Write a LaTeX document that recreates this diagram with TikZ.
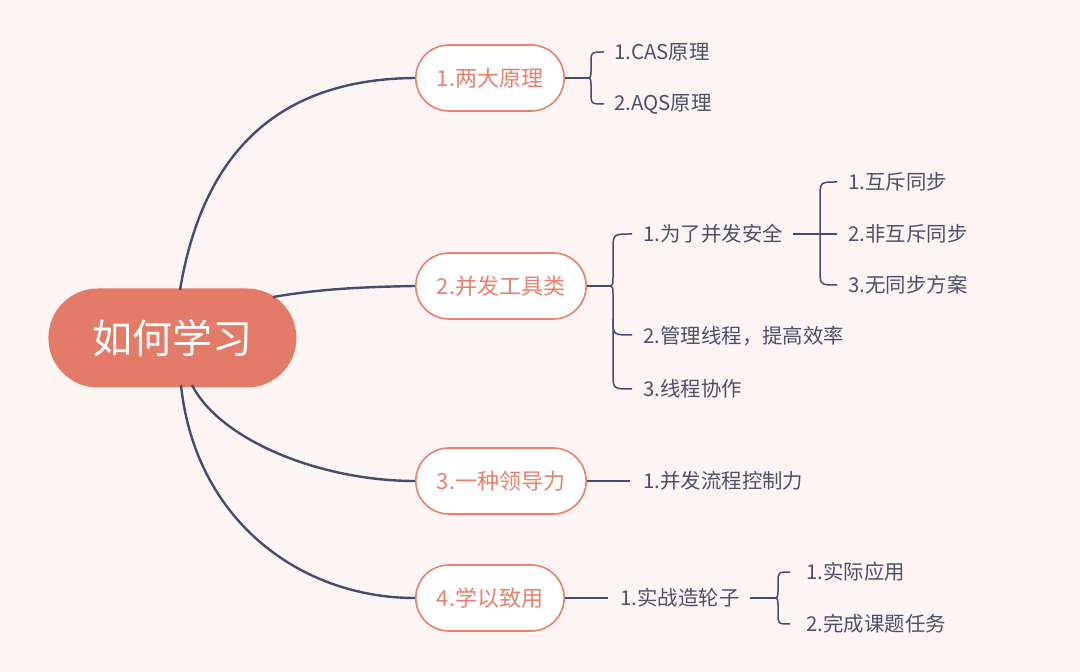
\documentclass[tikz,border=0pt]{standalone}
\usepackage{fontspec}
\setmainfont{Noto Sans CJK SC}
\definecolor{bgc}{HTML}{FDF5F3}
\definecolor{navy}{HTML}{464B70}
\definecolor{salmon}{HTML}{E8806C}
\definecolor{cfill}{HTML}{E47B69}
\definecolor{leaftxt}{HTML}{4D4F6B}
\tikzset{
  root/.style={fill=cfill, draw=none, text=white, font=\fontsize{20pt}{24pt}\selectfont,
    rounded corners=24.7pt, minimum height=49.5pt, inner xsep=22pt, inner ysep=0pt, anchor=west},
  branch/.style={fill=white, draw=salmon, line width=0.8pt, text=salmon,
    font=\fontsize{11pt}{13pt}\selectfont, rounded corners=16.5pt, minimum height=33pt,
    inner xsep=10.5pt, inner ysep=0pt, anchor=west},
  leaf/.style={text=leaftxt, font=\fontsize{10.2pt}{12pt}\selectfont, inner sep=0pt, anchor=west},
  mainline/.style={draw=navy, line width=1.2pt},
  subline/.style={draw=navy, line width=0.75pt},
}
\begin{document}
\begin{tikzpicture}[x=0.5pt,y=-0.5pt]
\fill[bgc] (0,0) rectangle (1080,672);
\useasboundingbox (0,0) rectangle (1080,672);

\coordinate (s1) at (180,290);
\coordinate (s2) at (273,297);
\coordinate (s3) at (192,385);
\coordinate (s4) at (181,385);

\node[root] (c) at (48,338) {如何学习};
\node[branch] (n1) at (415,78) {1.两大原理};
\node[branch] (n2) at (415,286) {2.并发工具类};
\node[branch] (n3) at (415,481) {3.一种领导力};
\node[branch] (n4) at (415,598) {4.学以致用};

% leaves
\node[leaf] (l11) at (614,52) {1.CAS原理};
\node[leaf] (l12) at (614,104) {2.AQS原理};
\node[leaf] (l21) at (643,234) {1.为了并发安全};
\node[leaf] (l22) at (643,336) {2.管理线程，提高效率};
\node[leaf] (l23) at (643,389) {3.线程协作};
\node[leaf] (l211) at (848,182) {1.互斥同步};
\node[leaf] (l212) at (848,234) {2.非互斥同步};
\node[leaf] (l213) at (848,285) {3.无同步方案};
\node[leaf] (l31) at (643,481) {1.并发流程控制力};
\node[leaf] (l41) at (620,598) {1.实战造轮子};
\node[leaf] (l411) at (806,572) {1.实际应用};
\node[leaf] (l412) at (806,624) {2.完成课题任务};

% main curves
\draw[mainline] (s1) .. controls (205,140) and (290,79) .. (n1.west);
\draw[mainline] (s2) .. controls (320,289) and (360,287) .. (n2.west);
\draw[mainline] (s3) .. controls (220,440) and (320,481) .. (n3.west);
\draw[mainline] (s4) .. controls (195,520) and (300,598) .. (n4.west);

% brace A
\coordinate (bA) at (586,78);
\draw[subline] (n1.east) -- (bA);
\draw[subline] (604,52) .. controls (591,52) .. (591,64) -- (591,68) .. controls (591,78) .. (bA)
  .. controls (591,78) .. (591,88) -- (591,92) .. controls (591,104) .. (604,104);

% brace B
\coordinate (bB) at (608,286);
\draw[subline] (n2.east) -- (bB);
\draw[subline] (632,234) .. controls (613,234) .. (613,250) -- (613,274) .. controls (613,286) .. (bB)
  .. controls (613,286) .. (613,298) -- (613,373) .. controls (613,389) .. (632,389);
\draw[subline] (613,319) .. controls (613,335) .. (632,335);

% brace C
\coordinate (cL) at (793,234);
\coordinate (cR) at (837,234);
\draw[subline] (cL) -- (cR);
\draw[subline] (837,182) .. controls (820,182) .. (820,198) -- (820,269) .. controls (820,285) .. (837,285);

% node 3 line
\coordinate (e3) at (630,481);
\draw[subline] (n3.east) -- (e3);

% node 4 lines
\coordinate (e4) at (608,598);
\draw[subline] (n4.east) -- (e4);
\coordinate (dL) at (750,598);
\coordinate (bD) at (773,598);
\draw[subline] (dL) -- (bD);
\draw[subline] (790,572) .. controls (778,572) .. (778,583) -- (778,588) .. controls (778,598) .. (bD)
  .. controls (778,598) .. (778,608) -- (778,613) .. controls (778,624) .. (790,624);
\end{tikzpicture}
\end{document}
